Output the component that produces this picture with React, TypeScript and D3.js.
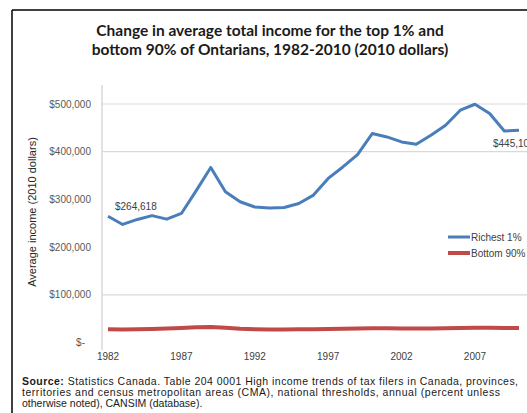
import React from "react";
import * as d3 from "d3";

const years: number[] = d3.range(1982, 2011);
const richest1: number[] = [
  264618, 247500, 258000, 266000, 258600, 270500, 318000, 367000, 316000, 295000,
  284000, 282000, 283000, 291500, 309000, 344000, 368000, 394000, 438000, 431000,
  420500, 415700, 434500, 455500, 487000, 499500, 480000, 443500, 445100,
];
const bottom90: number[] = [
  28000, 27500, 28000, 28500, 29500, 30500, 32000, 32500, 31000, 29000,
  28000, 27500, 27500, 28000, 28000, 28500, 29000, 29500, 30000, 30000,
  29500, 29500, 29500, 30000, 30500, 31000, 31000, 30500, 30500,
];
const yTicks: number[] = [0, 100000, 200000, 300000, 400000, 500000];
const gridValues: number[] = [100000, 400000, 500000];
const xTickYears: number[] = [1982, 1987, 1992, 1997, 2002, 2007];
const seriesNames: string[] = ["Richest 1%", "Bottom 90%"];
const titleLines: string[] = [
  "Change in average total income for the top 1% and",
  "bottom 90% of Ontarians, 1982-2010 (2010 dollars)",
];
const sourceLines: string[] = [
  " Statistics Canada. Table 204 0001 High income trends of tax filers in Canada, provinces,",
  "territories and census metropolitan areas (CMA), national thresholds, annual (percent unless",
  "otherwise noted), CANSIM (database).",
];
const sourceWidths: (number | undefined)[] = [496, 478, undefined];

const W = 527;
const H = 413;
const BLUE = "#4A7EBB";
const RED = "#BE4B48";
const SANS = "'Liberation Sans', Arial, sans-serif";

export default function App() {
  const x = d3.scaleLinear().domain([1982, 2010]).range([108, 519]);
  const y = d3.scaleLinear().domain([0, 500000]).range([342.5, 104]);

  const line = d3
    .line<number>()
    .x((_, i) => x(years[i]))
    .y((d) => y(d))
    .curve(d3.curveLinear);

  const fmt = (v: number) => (v === 0 ? "$-" : "$" + d3.format(",")(v));

  return (
    <svg
      width={W}
      height={H}
      style={{ position: "absolute", left: 0, top: 0, background: "#fff" }}
    >
      <rect x={0} y={0} width={W} height={H} fill="#fff" />
      {/* frame */}
      <line x1={12} y1={10} x2={W} y2={10} stroke="#000" strokeWidth={1.5} />
      <line x1={12} y1={10} x2={12} y2={H} stroke="#000" strokeWidth={1.5} />

      {/* title */}
      {titleLines.map((t, i) => (
        <text
          key={i}
          x={270}
          y={36 + i * 18.5}
          textAnchor="middle"
          fontFamily="Lato, 'Open Sans', sans-serif"
          fontWeight="bold"
          fontSize={15.5}
          fill="#1a1a1a"
        >
          {t}
        </text>
      ))}

      {/* gridlines */}
      {gridValues.map((v) => (
        <line key={v} x1={102} x2={W} y1={y(v)} y2={y(v)} stroke="#d9d9d9" strokeWidth={1.2} />
      ))}
      {/* vertical axis */}
      <line x1={102} x2={102} y1={85} y2={350} stroke="#d9d9d9" strokeWidth={1.5} />

      {/* y tick labels */}
      {yTicks.map((v) => (
        <text
          key={v}
          x={v === 0 ? 85 : 91}
          y={y(v) + 3.5}
          textAnchor="end"
          fontFamily={SANS}
          fontSize={10}
          fill="#595959"
        >
          {fmt(v)}
        </text>
      ))}

      {/* y axis title */}
      <text
        transform={`translate(36, 212) rotate(-90)`}
        textAnchor="middle"
        fontFamily={SANS}
        fontSize={11}
        fill="#262626"
      >
        Average income (2010 dollars)
      </text>

      {/* x tick labels */}
      {xTickYears.map((yr) => (
        <text
          key={yr}
          x={x(yr)}
          y={360}
          textAnchor="middle"
          fontFamily={SANS}
          fontSize={10}
          fill="#404040"
        >
          {yr}
        </text>
      ))}

      {/* series */}
      <path d={line(bottom90) || ""} fill="none" stroke={RED} strokeWidth={4} strokeLinejoin="round" />
      <path d={line(richest1) || ""} fill="none" stroke={BLUE} strokeWidth={3} strokeLinejoin="round" />

      {/* data labels */}
      <text x={x(1982) + 7} y={y(richest1[0]) - 6} fontFamily={SANS} fontSize={10} fill="#404040">
        {fmt(richest1[0])}
      </text>
      <text
        x={x(2010) - 26}
        y={y(richest1[richest1.length - 1]) + 17}
        fontFamily={SANS}
        fontSize={10}
        fill="#404040"
      >
        {fmt(richest1[richest1.length - 1])}
      </text>

      {/* legend */}
      {seriesNames.map((n, i) => (
        <g key={n} transform={`translate(448, ${237 + i * 16})`}>
          <line x1={0} x2={22} y1={0} y2={0} stroke={i === 0 ? BLUE : RED} strokeWidth={i === 0 ? 3 : 4} />
          <text x={23} y={3.5} fontFamily={SANS} fontSize={10} fill="#404040">
            {n}
          </text>
        </g>
      ))}

      {/* source */}
      {sourceLines.map((t, i) => (
        <text
          key={i}
          x={22}
          y={385 + i * 10.8}
          fontFamily={SANS}
          fontSize={10.5}
          fill="#1a1a1a"
          textLength={sourceWidths[i]}
          lengthAdjust={sourceWidths[i] ? "spacing" : undefined}
        >
          {i === 0 ? <tspan fontWeight="bold">Source:</tspan> : null}
          {t}
        </text>
      ))}
    </svg>
  );
}
